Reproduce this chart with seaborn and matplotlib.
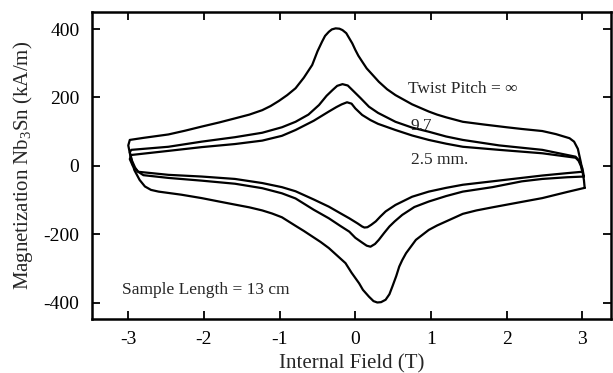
import numpy as np
import pandas as pd
import matplotlib
matplotlib.use("Agg")
import matplotlib.pyplot as plt
import seaborn as sns

# ---- data ----
# Twist pitch = infinity (outer loop): right vertical, upper branch (leftwards), left vertical, lower branch
inf_field = [3.03, 3.02, 2.98, 2.94, 2.89, 2.83, 2.65, 2.47, 2.2, 2.0, 1.7, 1.42, 1.2, 1.08, 0.97, 0.75, 0.53,
             0.42, 0.31, 0.22, 0.15, 0.09, 0.04, 0.0, -0.04, -0.08, -0.12, -0.17, -0.21, -0.26, -0.31,
             -0.35, -0.40, -0.44, -0.50, -0.57, -0.68, -0.79, -0.90, -1.01, -1.12, -1.23, -1.40, -1.59,
             -1.80, -2.03, -2.25, -2.47, -2.8, -2.98,
             -3.0, -2.97, -2.92, -2.85, -2.78, -2.7, -2.6, -2.3, -2.03, -1.80, -1.59, -1.40, -1.23, -1.10,
             -0.97, -0.79, -0.68, -0.57, -0.46, -0.35, -0.24, -0.13, -0.05, 0.05, 0.10, 0.18, 0.24, 0.29,
             0.34, 0.40, 0.45, 0.49, 0.54, 0.58, 0.62, 0.67, 0.80, 0.97, 1.08, 1.20, 1.42, 1.60, 1.81,
             2.2, 2.47, 2.8, 3.03]
inf_mag = [-64, -41, 10, 50, 71, 81, 93, 102, 108, 113, 121, 129, 142, 150, 159, 180, 207,
           224, 246, 268, 285, 305, 322, 339, 358, 373, 388, 397, 401, 402, 399,
           392, 380, 363, 335, 295, 258, 227, 207, 190, 175, 163, 150, 139,
           127, 115, 103, 92, 82, 76,
           60, 27, -12, -41, -60, -70, -75, -84, -94, -104, -113, -121, -130, -139,
           -150, -175, -190, -206, -222, -240, -262, -284, -312, -343, -362, -382, -395, -399,
           -398, -391, -375, -352, -322, -294, -275, -255, -216, -187, -174, -162, -140, -130, -121,
           -105, -94, -76, -64]

# Twist pitch = 9.7 mm
p97_field = [3.02, 3.0, 2.96, 2.91, 2.47, 1.9, 1.42, 1.2, 0.97, 0.75, 0.53, 0.30, 0.18, 0.07, -0.04,
             -0.10, -0.17, -0.24, -0.30, -0.38, -0.48, -0.62, -0.79, -0.97, -1.23, -1.59, -2.03, -2.47,
             -2.96,
             -2.98, -2.95, -2.91, -2.87, -2.8, -2.47, -2.03, -1.59, -1.23, -0.97, -0.79, -0.55, -0.35,
             -0.2, -0.08, 0.0, 0.09, 0.15, 0.20, 0.26, 0.31, 0.38, 0.45, 0.52, 0.62, 0.78, 0.97, 1.2,
             1.42, 1.81, 2.2, 2.47, 2.8, 3.02]
p97_mag = [-31, -7, 15, 27, 47, 60, 76, 86, 100, 112, 129, 155, 173, 198, 222,
           235, 239, 234, 222, 205, 178, 150, 129, 113, 97, 84, 71, 56,
           47,
           40, 15, -5, -17, -27, -35, -43, -52, -65, -80, -95, -128, -153,
           -175, -192, -210, -224, -233, -236, -228, -216, -196, -177, -162, -143, -120, -104, -88,
           -75, -62, -45, -38, -33, -31]

# Twist pitch = 2.5 mm
p25_field = [3.0, 2.98, 2.95, 2.91, 2.47, 1.9, 1.42, 1.2, 0.97, 0.75, 0.53, 0.30, 0.20, 0.09, 0.0, -0.05,
             -0.11, -0.18, -0.25, -0.35, -0.55, -0.79, -0.97, -1.23, -1.59, -2.03, -2.47, -2.96,
             -2.98, -2.94, -2.87, -2.47, -2.03, -1.59, -1.23, -0.97, -0.79, -0.55, -0.35, -0.2, -0.08,
             0.03, 0.09, 0.12, 0.16, 0.21, 0.27, 0.33, 0.40, 0.53, 0.75, 0.97, 1.2, 1.42, 1.81, 2.47,
             2.8, 3.0]
p25_mag = [-17, 0, 15, 24, 37, 47, 56, 65, 76, 89, 105, 123, 134, 149, 168, 182,
           186, 180, 172, 159, 132, 105, 88, 74, 64, 55, 44, 32,
           20, 0, -17, -26, -31, -38, -50, -62, -74, -98, -119, -138, -153,
           -168, -177, -180, -179, -172, -162, -148, -133, -114, -90, -75, -64, -55, -45, -28,
           -21, -17]

x_ticks = [-3, -2, -1, 0, 1, 2, 3]
y_ticks = [400, 200, 0, -200, -400]

x_label = "Internal Field (T)"
y_label = "Magnetization Nb$_3$Sn (kA/m)"
annotations = ["Twist Pitch = \u221e", "9.7", "2.5 mm.", "Sample Length = 13 cm"]

# ---- plotting ----
sns.set_style("ticks")
plt.rcParams["font.family"] = ["Liberation Serif", "DejaVu Serif"]
plt.rcParams["mathtext.fontset"] = "custom"
plt.rcParams["mathtext.rm"] = "Liberation Serif"
plt.rcParams["mathtext.it"] = "Liberation Serif:italic"
plt.rcParams["axes.unicode_minus"] = False

fig = plt.figure(figsize=(6.13, 3.73), dpi=100)
ax = fig.add_axes([0.150, 0.145, 0.847, 0.823])

loops = [(inf_field, inf_mag), (p97_field, p97_mag), (p25_field, p25_mag)]
for hf, mg in loops:
    df = pd.DataFrame({"H": hf, "M": mg})
    sns.lineplot(data=df, x="H", y="M", sort=False, estimator=None, color="black",
                 linewidth=1.6, ax=ax)
for ln in ax.get_lines():
    ln.set_solid_joinstyle("round")

ax.set_xlim(-3.48, 3.38)
ax.set_ylim(-447, 450)
ax.set_xticks(x_ticks)
ax.set_xticklabels([str(t) for t in x_ticks])
ax.set_yticks(y_ticks)
ax.set_yticklabels([str(t) for t in y_ticks])
ax.tick_params(direction="in", top=True, right=True, length=6, width=1.3,
               labelsize=14, pad=9, colors="black")
for s in ax.spines.values():
    s.set_linewidth(1.8)
    s.set_color("black")

ax.set_xlabel(x_label, fontsize=15, labelpad=4)
ax.set_ylabel(y_label, fontsize=15, labelpad=6)

ax.text(0.70, 225, annotations[0], fontsize=12.5, va="center", ha="left")
ax.text(0.73, 117, annotations[1], fontsize=12.5, va="center", ha="left")
ax.text(0.73, 18, annotations[2], fontsize=12.5, va="center", ha="left")
ax.text(-3.08, -362, annotations[3], fontsize=12.5, va="center", ha="left")

fig.savefig("out.png", dpi=100)
